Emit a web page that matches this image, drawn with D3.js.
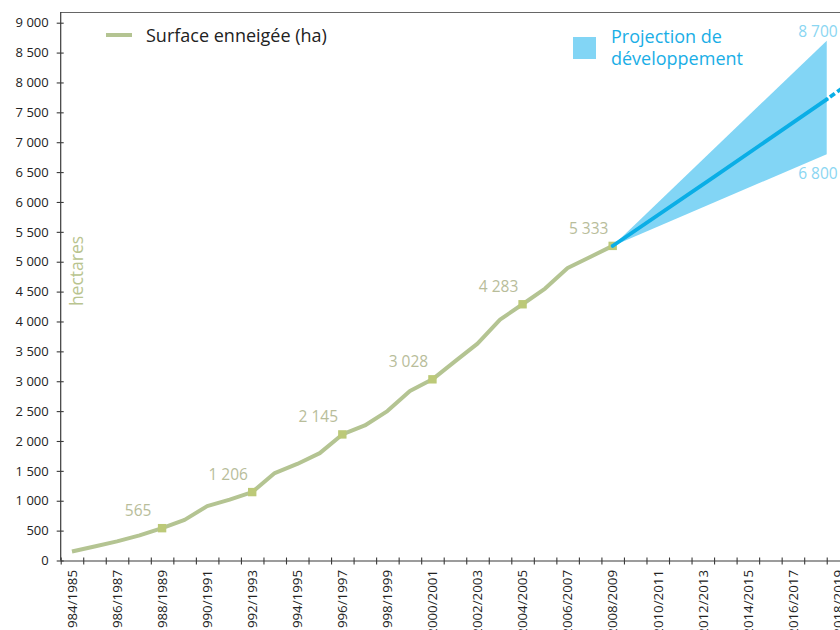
<!DOCTYPE html>
<html>
<head>
<meta charset="utf-8">
<script src="https://cdn.jsdelivr.net/npm/d3@7"></script>
<style>
  html, body { margin: 0; padding: 0; background: #fff; }
  svg { display: block; font-family: "Open Sans", "Noto Sans", sans-serif; }
</style>
</head>
<body>
<svg id="chart" width="840" height="630"></svg>
<script>
// ---- data ----
const seasons = [
  "1984/1985","1985/1986","1986/1987","1987/1988","1988/1989","1989/1990","1990/1991",
  "1991/1992","1992/1993","1993/1994","1994/1995","1995/1996","1996/1997","1997/1998",
  "1998/1999","1999/2000","2000/2001","2001/2002","2002/2003","2003/2004","2004/2005",
  "2005/2006","2006/2007","2007/2008","2008/2009","2009/2010","2010/2011","2011/2012",
  "2012/2013","2013/2014","2014/2015","2015/2016","2016/2017","2017/2018","2018/2019"
];
// snow-covered surface (ha), seasons 1984/1985 .. 2008/2009
const surface = [150, 235, 320, 420, 541, 680, 910, 1020, 1145, 1463, 1616, 1797, 2110,
  2260, 2500, 2836, 3032, 3333, 3630, 4032, 4288, 4551, 4896, 5080, 5265];
const markedSeasons = ["1988/1989","1992/1993","1996/1997","2000/2001","2004/2005","2008/2009"];
const markedLabels = ["565","1 206","2 145","3 028","4 283","5 333"];

// projection (x in years)
const projYears = [2008.5, 2018];
const projHigh = [5265, 8700];
const projLow = [5265, 6800];
const projMidYears = [2008.5, 2013, 2018];
const projMid = [5265, 6421, 7717];
const projDashYears = [2018, 2019];
const projDash = [7717, 7990];
const projEndLabels = ["8 700", "6 800"];

const yTicks = [0,500,1000,1500,2000,2500,3000,3500,4000,4500,5000,5500,6000,6500,7000,7500,8000,8500,9000];

// ---- layout ----
const svg = d3.select("#chart");
const x0 = 60.7, step = 22.53;
const xYear = d3.scaleLinear().domain([1984, 2019]).range([x0, x0 + 35 * step]);
const xBand = d3.scaleBand().domain(seasons).range([x0, x0 + 35 * step]).padding(0);
const y = d3.scaleLinear().domain([0, 9000]).range([560.5, 22.7]);
const cx = s => xBand(s) + xBand.bandwidth() / 2;

const fr = d3.formatLocale({decimal: ",", thousands: " ", grouping: [3], currency: ["", ""]});
const fmt = fr.format(",d");

const axisColor = "#3a3a3a";

// frame lines
svg.append("line").attr("x1", x0).attr("x2", 840).attr("y1", 12.5).attr("y2", 12.5)
  .attr("stroke", "#666").attr("stroke-width", 1);
svg.append("line").attr("x1", x0).attr("x2", x0).attr("y1", 12).attr("y2", y(0))
  .attr("stroke", axisColor).attr("stroke-width", 1.2);

// Y axis
const gy = svg.append("g").attr("transform", `translate(${x0},0)`)
  .call(d3.axisLeft(y).tickValues(yTicks).tickFormat(fmt).tickSizeInner(4).tickSizeOuter(0).tickPadding(8));
gy.select(".domain").remove();
gy.selectAll(".tick line").attr("x1", 3).attr("stroke", axisColor).attr("stroke-width", 1.1);
gy.selectAll(".tick text").attr("font-size", 13).attr("fill", "#222")
  .attr("font-family", "'Open Sans', sans-serif");

// X axis ticks
const gx = svg.append("g").attr("transform", `translate(0,${y(0)})`)
  .call(d3.axisBottom(xYear).tickValues(d3.range(1984, 2020)).tickFormat("").tickSizeInner(4).tickSizeOuter(0));
gx.select(".domain").attr("d", `M${x0},0.5H845`).attr("stroke", axisColor).attr("stroke-width", 1.2);
gx.selectAll(".tick line").attr("y1", -3).attr("stroke", axisColor).attr("stroke-width", 1.1);

// X labels
const gxl = svg.append("g").attr("transform", `translate(0,${y(0)})`)
  .call(d3.axisBottom(xBand).tickValues(seasons.filter((d, i) => i % 2 === 0)).tickSize(0));
gxl.select(".domain").remove();
gxl.selectAll(".tick text")
  .attr("transform", "rotate(-90)")
  .attr("text-anchor", "end")
  .attr("x", -9.5).attr("y", 0).attr("dy", "0.36em")
  .attr("font-size", 13.3).attr("fill", "#222")
  .attr("font-family", "'Open Sans', sans-serif");

// hectares label
svg.append("text").attr("transform", `translate(83,271) rotate(-90)`)
  .attr("text-anchor", "middle").attr("font-size", 17.5).attr("fill", "#b9c48f")
  .text("hectares");

// projection envelope
const envArea = d3.area().x((d, i) => xYear(projYears[i])).y0((d, i) => y(projLow[i])).y1(d => y(d));
svg.append("path").datum(projHigh).attr("d", envArea).attr("fill", "#82d5f5");

// historical line
const hist = surface.map((v, i) => [cx(seasons[i]), y(v)]);
svg.append("path").datum(hist).attr("d", d3.line())
  .attr("fill", "none").attr("stroke", "#b4c492").attr("stroke-width", 4)
  .attr("stroke-linejoin", "round").attr("stroke-linecap", "butt");

// markers
const markers = markedSeasons.map((s, i) => ({s, v: surface[seasons.indexOf(s)], label: markedLabels[i]}));
svg.selectAll("rect.mk").data(markers).join("rect").attr("class", "mk")
  .attr("x", d => cx(d.s) - 4.2).attr("y", d => y(d.v) - 4.2)
  .attr("width", 8.4).attr("height", 8.4).attr("fill", "#bcc978");
svg.selectAll("text.mkl").data(markers).join("text").attr("class", "mkl")
  .attr("x", d => cx(d.s) - 24).attr("y", d => y(d.v) - 12)
  .attr("text-anchor", "middle").attr("font-size", 15.5).attr("fill", "#b8bd9a")
  .text(d => d.label);

// projection central line
const midLine = d3.line().curve(d3.curveMonotoneX);
svg.append("path").datum(projMid.map((v, i) => [xYear(projMidYears[i]), y(v)]))
  .attr("d", midLine).attr("fill", "none").attr("stroke", "#0aaee6").attr("stroke-width", 3.8)
  .attr("stroke-linecap", "round");
svg.append("path").datum(projDash.map((v, i) => [xYear(projDashYears[i]), y(v)]))
  .attr("d", d3.line()).attr("fill", "none").attr("stroke", "#0aaee6").attr("stroke-width", 3.8)
  .attr("stroke-dasharray", "6,3").attr("stroke-dashoffset", -4);

// projection end labels
svg.append("text").attr("x", xYear(projYears[1]) + 11).attr("y", y(projHigh[1]) - 4)
  .attr("text-anchor", "end").attr("font-size", 15.5).attr("fill", "#8ad6f2").text(projEndLabels[0]);
svg.append("text").attr("x", xYear(projYears[1]) + 11).attr("y", y(projLow[1]) + 25)
  .attr("text-anchor", "end").attr("font-size", 15.5).attr("fill", "#8ad6f2").text(projEndLabels[1]);

// legend
svg.append("line").attr("x1", 106).attr("x2", 132).attr("y1", 35).attr("y2", 35)
  .attr("stroke", "#b4c492").attr("stroke-width", 4);
svg.append("text").attr("x", 146).attr("y", 42).attr("font-size", 18).attr("fill", "#222")
  .text("Surface enneigée (ha)");
svg.append("rect").attr("x", 573).attr("y", 37).attr("width", 23).attr("height", 22).attr("fill", "#82d5f5");
svg.append("text").attr("x", 611).attr("y", 42.5).attr("font-size", 18).attr("fill", "#1aaee6")
  .text("Projection de");
svg.append("text").attr("x", 611).attr("y", 65).attr("font-size", 18).attr("fill", "#1aaee6")
  .text("développement");
</script>
</body>
</html>
